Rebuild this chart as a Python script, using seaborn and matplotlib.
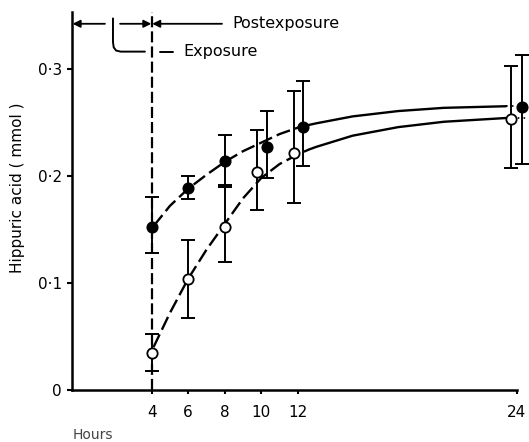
import numpy as np
import pandas as pd
import matplotlib
matplotlib.use("Agg")
import matplotlib.pyplot as plt
import seaborn as sns

# ---- data ----
open_t = [4, 6, 8, 9.75, 11.8, 23.7]
open_y = [0.035, 0.104, 0.152, 0.204, 0.221, 0.253]
open_lo = [0.018, 0.067, 0.120, 0.168, 0.175, 0.207]
open_hi = [0.052, 0.140, 0.190, 0.243, 0.279, 0.303]

filled_t = [4, 6, 8, 10.3, 12.3, 24.3]
filled_y = [0.152, 0.189, 0.214, 0.227, 0.246, 0.264]
filled_lo = [0.128, 0.178, 0.191, 0.198, 0.209, 0.211]
filled_hi = [0.180, 0.200, 0.238, 0.261, 0.289, 0.313]

# fitted curves
curve_t = [4.1, 5, 6, 7, 8, 9, 10, 11, 12, 12.6, 13, 15, 17.5, 20, 23.4]
upper_curve = [0.153, 0.172, 0.188, 0.201, 0.213, 0.223, 0.231, 0.239, 0.245, 0.2475,
               0.249, 0.2555, 0.2605, 0.2635, 0.265]
lower_curve = [0.040, 0.072, 0.104, 0.131, 0.155, 0.179, 0.198, 0.211, 0.220, 0.2245,
               0.227, 0.2375, 0.2455, 0.2505, 0.254]
tail_t = [23.4, 24.65]

x_ticks = [4, 6, 8, 10, 12, 24]
y_ticks = [0, 0.1, 0.2, 0.3]
y_ticklabels = ["0", "0\u00b71", "0\u00b72", "0\u00b73"]

sns.set_style("ticks")
plt.rcParams["font.family"] = ["DejaVu Sans"]
plt.rcParams["text.color"] = "black"
plt.rcParams["xtick.color"] = "black"
plt.rcParams["ytick.color"] = "black"
plt.rcParams["axes.edgecolor"] = "black"

fig = plt.figure(figsize=(5.29, 4.42), dpi=100)
ax = fig.add_axes([71.7 / 529, 52 / 442, (529 - 71.7) / 529, 378 / 442])

curves = pd.DataFrame({"t": curve_t, "upper": upper_curve, "lower": lower_curve})
dash_part = curves[curves["t"] <= 12.6]
solid_part = curves[curves["t"] >= 12.6]

for col in ["upper", "lower"]:
    sns.lineplot(data=dash_part, x="t", y=col, ax=ax, color="black", lw=1.7,
                 linestyle=(0, (6, 2.2)), estimator=None, sort=False)
    sns.lineplot(data=solid_part, x="t", y=col, ax=ax, color="black", lw=1.7,
                 estimator=None, sort=False)
    last = curves[col].iloc[-1]
    ax.plot(tail_t, [last, last], color="black", lw=1.2, linestyle=(0, (1, 2.5)))

# error bars
oy = np.array(open_y); fy = np.array(filled_y)
ax.errorbar(open_t, oy, yerr=[oy - np.array(open_lo), np.array(open_hi) - oy],
            fmt="none", ecolor="black", elinewidth=1.4, capsize=5, capthick=1.4, zorder=3)
ax.errorbar(filled_t, fy, yerr=[fy - np.array(filled_lo), np.array(filled_hi) - fy],
            fmt="none", ecolor="black", elinewidth=1.4, capsize=5, capthick=1.4, zorder=3)

pts = pd.DataFrame({"t": open_t + filled_t, "y": open_y + filled_y,
                    "group": ["open"] * len(open_t) + ["filled"] * len(filled_t)})
sns.scatterplot(data=pts[pts.group == "open"], x="t", y="y", ax=ax, s=55,
                color="white", edgecolor="black", linewidth=1.3, zorder=5, legend=False)
sns.scatterplot(data=pts[pts.group == "filled"], x="t", y="y", ax=ax, s=55,
                color="black", edgecolor="black", linewidth=1.3, zorder=5, legend=False)

# exposure boundary
ax.axvline(4, color="black", lw=1.6, linestyle=(0, (5, 1.8)), zorder=2)

ax.set_xlim(-0.38, 24.66)
ax.set_ylim(0, 0.353)
ax.set_xticks(x_ticks)
ax.set_xticklabels([str(v) for v in x_ticks])
ax.set_yticks(y_ticks)
ax.set_yticklabels(y_ticklabels)
ax.tick_params(axis="x", length=3, width=1.5, pad=8, labelsize=11, colors="black")
ax.tick_params(axis="y", length=3.5, width=1.5, pad=3.5, labelsize=11, colors="black")
ax.set_xlabel("")
ax.set_ylabel("")
sns.despine(ax=ax, top=True, right=True)
ax.spines["left"].set_linewidth(1.8)
ax.spines["bottom"].set_linewidth(1.8)
ax.spines["bottom"].set_bounds(-0.38, 24)
ax.spines["left"].set_bounds(0, 0.353)

# annotations at the top
ya = 0.342
arrow_kw = dict(arrowstyle="-|>", mutation_scale=11, lw=1.3, color="black",
                shrinkA=0, shrinkB=0)
ax.annotate("", xy=(-0.33, ya), xytext=(1.44, ya), arrowprops=arrow_kw, annotation_clip=False)
ax.annotate("", xy=(3.98, ya), xytext=(2.27, ya), arrowprops=arrow_kw, annotation_clip=False)
ax.annotate("", xy=(4.03, ya), xytext=(7.85, ya), arrowprops=arrow_kw, annotation_clip=False)
ax.text(8.4, ya, "Postexposure", fontsize=11.5, va="center", ha="left", color="black")

ye = 0.316
ax.plot([1.88, 1.88, 1.92, 2.05, 2.3, 3.63], [0.347, 0.325, 0.320, 0.317, 0.316, 0.316],
        color="black", lw=1.4, clip_on=False)
ax.plot([4.45, 5.17], [ye, ye], color="black", lw=1.4)
ax.text(5.72, ye, "Exposure", fontsize=11.5, va="center", ha="left", color="black")

fig.text(18 / 529, 1 - 188 / 442, "Hippuric acid ( mmol )", rotation=90,
         va="center", ha="center", fontsize=11, color="black")
fig.text(73 / 529, 1 - 435 / 442, "Hours", fontsize=10, va="center", ha="left",
         color="#444444")

fig.savefig("out.png", dpi=100)
